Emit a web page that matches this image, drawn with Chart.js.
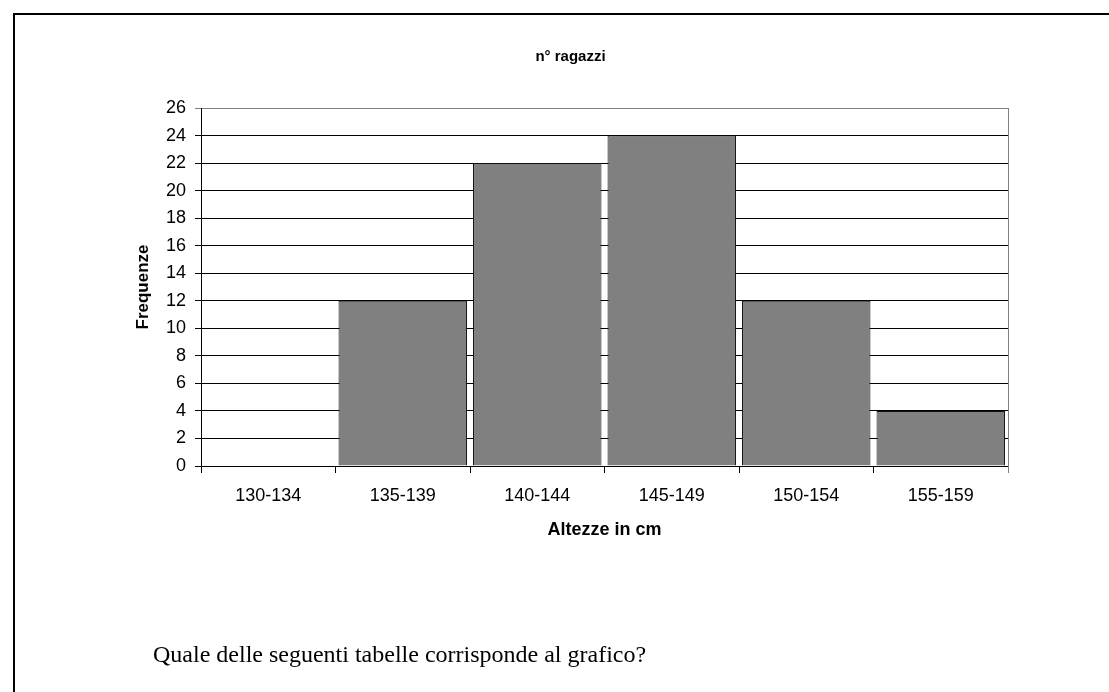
<!DOCTYPE html>
<html>
<head>
<meta charset="utf-8">
<script src="https://cdn.jsdelivr.net/npm/chart.js"></script>
<style>
  html, body { margin: 0; padding: 0; background: #fff; }
  #page { position: relative; width: 1109px; height: 692px; overflow: hidden; }
  #frame { position: absolute; left: 13px; top: 13px; right: -4px; bottom: -4px;
           border-top: 2px solid #000; border-left: 2px solid #000; }
  #chart { position: absolute; left: 0; top: 0; }
  #question { position: absolute; left: 153px; top: 641px; margin: 0;
              font-family: "Liberation Serif", "Times New Roman", serif; font-size: 24px; color: #000; }
</style>
</head>
<body>
<div id="page">
  <div id="frame"></div>
  <canvas id="chart" width="1109" height="692"></canvas>
  <p id="question">Quale delle seguenti tabelle corrisponde al grafico?</p>
</div>
<script>
var classi = ['130-134', '135-139', '140-144', '145-149', '150-154', '155-159'];
var frequenze = [0, 12, 22, 24, 12, 4];
var titolo = 'n° ragazzi';
var titoloX = 'Altezze in cm';
var titoloY = 'Frequenze';
var yMax = 26;
var yStep = 2;

document.addEventListener('DOMContentLoaded', function(){

  // bordo grigio a destra dell'area del grafico
  var bordoDestro = {
    id: 'bordoDestro',
    beforeDatasetsDraw: function(chart) {
      var a = chart.chartArea, c = chart.ctx;
      c.save();
      c.strokeStyle = '#808080';
      c.lineWidth = 1;
      c.beginPath();
      c.moveTo(Math.round(a.right) + 0.5, a.top);
      c.lineTo(Math.round(a.right) + 0.5, a.bottom + 7);
      c.stroke();
      c.restore();
    }
  };

  var ctx = document.getElementById('chart').getContext('2d');
  new Chart(ctx, {
    type: 'bar',
    data: {
      labels: classi,
      datasets: [{
        data: frequenze,
        backgroundColor: '#808080',
        borderColor: '#111',
        borderWidth: 1,
        barPercentage: 0.955,
        categoryPercentage: 1
      }]
    },
    options: {
      responsive: false,
      animation: false,
      layout: { padding: { left: 133, right: 101, top: 48, bottom: 151 } },
      plugins: {
        legend: { display: false },
        tooltip: { enabled: false },
        title: {
          display: true,
          text: titolo,
          color: '#000',
          font: { family: 'Liberation Sans', size: 15, weight: 'bold' },
          padding: { top: 0, bottom: 42 }
        }
      },
      scales: {
        x: {
          grid: { drawOnChartArea: false, drawTicks: true, tickLength: 7, color: '#000' },
          border: { color: '#000', width: 1 },
          ticks: { color: '#000', padding: 12, font: { family: 'Liberation Sans', size: 18 } },
          title: {
            display: true, text: titoloX, color: '#000',
            font: { family: 'Liberation Sans', size: 18, weight: 'bold' },
            padding: { top: 0, bottom: 0 }
          },
          afterFit: function(s) { s.height = 75; }
        },
        y: {
          min: 0, max: yMax,
          grid: {
            tickLength: 6,
            color: function(c) { return c.tick && c.tick.value === yMax ? '#808080' : '#000'; }
          },
          border: { color: '#000', width: 1 },
          ticks: { stepSize: yStep, color: '#000', padding: 9, font: { family: 'Liberation Sans', size: 18 } },
          title: {
            display: true, text: titoloY, color: '#000',
            font: { family: 'Liberation Sans', size: 17, weight: 'bold' },
            padding: { top: 0, bottom: 0 }
          },
          afterFit: function(s) { s.width = 68; }
        }
      }
    },
    plugins: [bordoDestro]
  });
});
</script>
</body>
</html>
